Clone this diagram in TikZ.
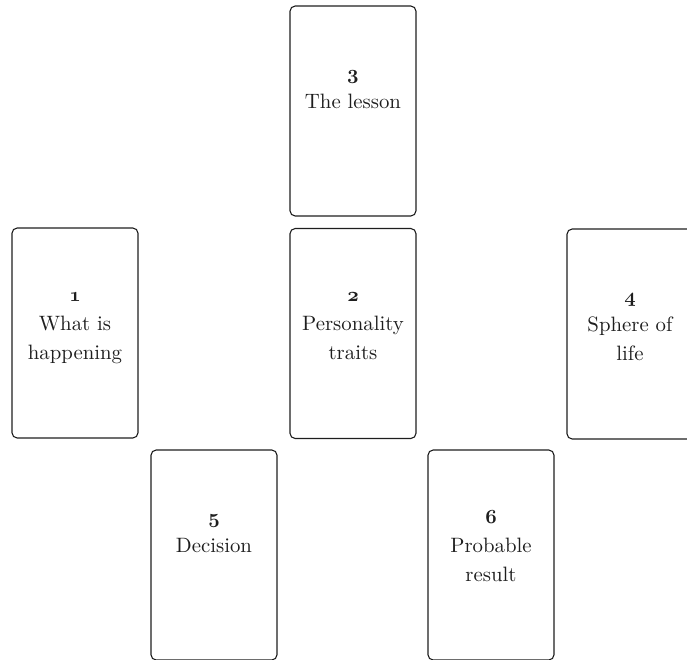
\documentclass[tikz,border=0pt]{standalone}
\usepackage{tikz}
\usetikzlibrary{positioning}
\definecolor{ink}{HTML}{1E1E1E}
\newcommand{\cardnum}[1]{{\usefont{OML}{cmm}{b}{it}#1}}

\begin{document}
\begin{tikzpicture}[x=0.5pt,y=-0.5pt,
  card/.style={draw=ink,line width=0.55pt,rounded corners=2.6pt,minimum width=63pt,minimum height=105pt,inner sep=0pt},
  cardtext/.style={align=center,inner sep=0pt,text=ink,font=\fontsize{10.4}{14.5}\selectfont}]
  \useasboundingbox (0,0) rectangle (687,660);
  \clip (0,0) rectangle (687,660);
  % six cards of the spread, each with its number and meaning
  \foreach \n/\x/\y/\t in {3/353/111/{The lesson},2/353/333.5/{Personality\\traits},1/75/333/{What is\\happening},
      4/630/334/{Sphere of\\life},5/214/555/Decision,6/491/555/{Probable\\result}}{
    \node[card] (card\n) at (\x,\y) {};
    \node[cardtext,below=26.5pt of card\n.north] (text\n) {\strut\cardnum{\n}\\\t};}
\end{tikzpicture}
\end{document}
